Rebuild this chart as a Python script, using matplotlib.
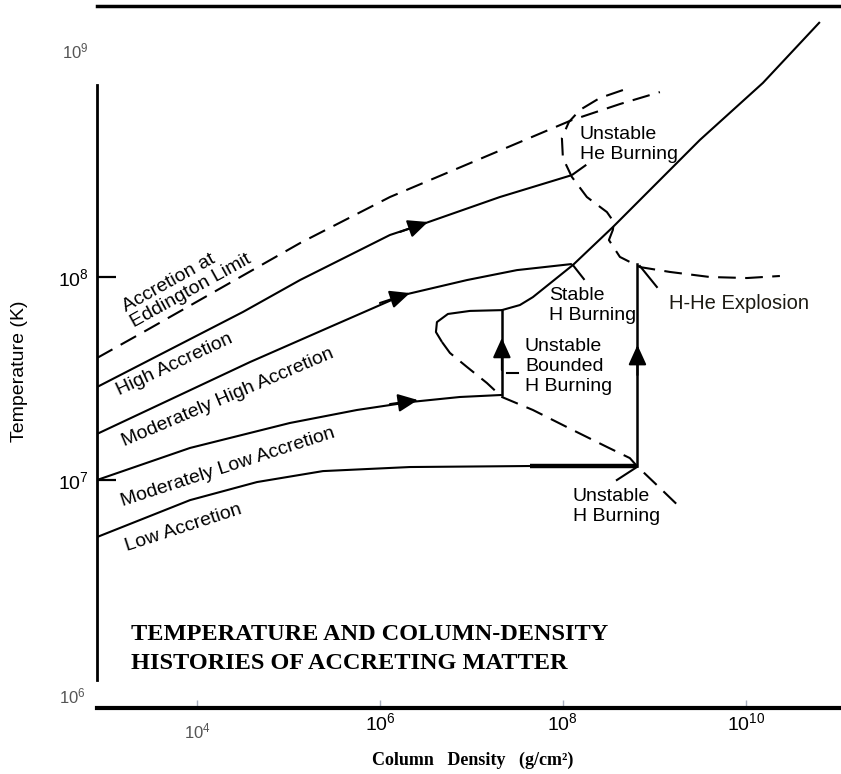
import numpy as np
import matplotlib.pyplot as plt
from matplotlib.transforms import ScaledTranslation

plt.rcParams['font.family'] = ['Liberation Sans', 'DejaVu Sans']
plt.rcParams['mathtext.fontset'] = 'custom'
plt.rcParams['mathtext.rm'] = 'Liberation Sans'
plt.rcParams['mathtext.it'] = 'Liberation Sans:italic'
plt.rcParams['mathtext.bf'] = 'Liberation Sans:bold'

# values below are log10(column density, g/cm^2) and log10(T, K)
edd_x = [2.907, 3.454, 5.126, 6.109, 8.098, 8.623, 9.060]
edd_y = [7.601, 7.739, 8.167, 8.394, 8.773, 8.852, 8.911]

high_x = [2.907, 4.503, 5.126, 6.109, 6.437, 7.311, 8.098]
high_y = [7.458, 7.828, 7.985, 8.207, 8.256, 8.394, 8.502]
high_end_x = [8.098, 8.328]
high_end_y = [8.502, 8.576]

modhigh_x = [2.907, 4.579, 5.454, 6.251, 6.951, 7.497, 8.098]
modhigh_y = [7.227, 7.581, 7.754, 7.911, 7.985, 8.034, 8.064]

modlow_x = [2.907, 3.924, 5.016, 5.749, 6.328, 6.874, 7.333]
modlow_y = [7.000, 7.158, 7.281, 7.345, 7.384, 7.409, 7.419]

low_x = [2.907, 3.924, 4.656, 5.377, 6.328, 7.639, 8.798]
low_y = [6.719, 6.901, 6.990, 7.044, 7.064, 7.069, 7.069]

# vertical jumps (unstable burning)
jump1_x = [7.333, 7.333]
jump1_y = [7.419, 7.837]
jump2_x = [8.815, 8.815]
jump2_y = [7.069, 8.064]

# stable H burning track up to the top right
stable_x = [7.333, 7.530, 7.672, 8.109, 8.546, 9.497, 10.186, 10.809]
stable_y = [7.837, 7.862, 7.901, 8.059, 8.246, 8.675, 8.956, 9.256]

# boundary of bounded unstable H burning: solid top part, dashed lower part
bnd_solid_x = [7.344, 6.984, 6.743, 6.623, 6.612, 6.678]
bnd_solid_y = [7.837, 7.833, 7.818, 7.778, 7.729, 7.680]
bnd_dash_x = [6.678, 6.765, 6.951, 7.169, 7.333, 7.672, 8.109, 8.481, 8.732, 8.809, 9.060, 9.311]
bnd_dash_y = [7.680, 7.626, 7.557, 7.478, 7.409, 7.345, 7.246, 7.163, 7.108, 7.069, 6.961, 6.852]

# boundary of unstable He burning / H-He explosion
he_x = [8.656, 8.404, 8.186, 8.066, 7.989, 8.000, 8.098, 8.262, 8.481, 8.557,
        8.546, 8.503, 8.623, 8.842, 9.169, 9.607, 10.011, 10.372]
he_y = [8.921, 8.882, 8.823, 8.764, 8.685, 8.586, 8.493, 8.394, 8.320, 8.271,
        8.232, 8.182, 8.099, 8.049, 8.025, 8.000, 7.995, 8.005]

# arrow heads: (tail, tip)
arrow_tail_x = [6.219, 6.000, 6.109, 7.333, 8.815]
arrow_tail_y = [8.222, 7.872, 7.374, 7.542, 7.517]
arrow_tip_x = [6.525, 6.328, 6.415, 7.333, 8.815]
arrow_tip_y = [8.271, 7.921, 7.394, 7.700, 7.665]

# leader ticks for region labels
leader_x0 = [8.109, 8.842, 7.388, 8.809]
leader_y0 = [8.059, 8.054, 7.527, 7.064]
leader_x1 = [8.229, 9.027, 7.508, 8.590]
leader_y1 = [7.990, 7.951, 7.527, 7.000]

region_labels = ['Unstable\nHe Burning', 'Stable\nH Burning', 'Unstable\nBounded\nH Burning',
                 'Unstable\nH Burning']
region_x = [8.186, 7.847, 7.585, 8.109]
region_y = [8.745, 7.953, 7.700, 6.962]

track_labels = ['Accretion at\nEddington Limit', 'High Accretion', 'Moderately High Accretion',
                'Moderately Low Accretion', 'Low Accretion']
track_x = [3.891, 3.760, 4.339, 4.339, 3.847]
track_y = [7.970, 7.567, 7.404, 7.064, 6.764]
track_rot = [29, 25, 23, 18, 18]

xtick_vals = [1e4, 1e6, 1e8, 1e10]
xtick_labels = [r'$\mathregular{10^4}$', r'$\mathregular{10^6}$', r'$\mathregular{10^8}$',
                r'$\mathregular{10^{10}}$']
ytick_vals = [1e6, 1e7, 1e8, 1e9]
ytick_labels = [r'$\mathregular{10^6}$', r'$\mathregular{10^7}$', r'$\mathregular{10^8}$',
                r'$\mathregular{10^9}$']


def L(a):
    return 10 ** np.asarray(a, dtype=float)


fig = plt.figure(figsize=(8.41, 7.74), dpi=100)
ax = fig.add_axes([97 / 841, 66 / 774, 744 / 841, 702 / 774])
ax.set_xscale('log')
ax.set_yscale('log')
ax.set_xlim(10 ** 2.907, 10 ** 11.04)
ax.set_ylim(10 ** 5.877, 10 ** 9.335)

solid = dict(color='black', lw=1.5, solid_capstyle='butt', solid_joinstyle='round')
dashed = dict(color='black', lw=1.5, dashes=(8.5, 4.5))

ax.plot(L(edd_x), L(edd_y), **dashed)
ax.plot(L(high_x), L(high_y), **solid)
ax.plot(L(high_end_x), L(high_end_y), **dashed)
ax.plot(L(modhigh_x), L(modhigh_y), **solid)
ax.plot(L(modlow_x), L(modlow_y), **solid)
ax.plot(L(low_x), L(low_y), **solid)
ax.plot(L(low_x[-2:]), L(low_y[-2:]), color='black', lw=3.2, solid_capstyle='butt')
ax.plot(L(jump1_x), L(jump1_y), color='black', lw=1.8)
ax.plot(L(jump2_x), L(jump2_y), color='black', lw=1.8)
ax.plot(L(stable_x), L(stable_y), **solid)
ax.plot(L(bnd_solid_x), L(bnd_solid_y), **solid)
ax.plot(L(bnd_dash_x), L(bnd_dash_y), **dashed)
ax.plot(L(he_x), L(he_y), **dashed)

for x0, y0, x1, y1 in zip(leader_x0, leader_y0, leader_x1, leader_y1):
    ax.plot(L([x0, x1]), L([y0, y1]), color='black', lw=1.5)

for tx, ty, hx, hy in zip(arrow_tail_x, arrow_tail_y, arrow_tip_x, arrow_tip_y):
    ax.annotate('', xy=(10 ** hx, 10 ** hy), xytext=(10 ** tx, 10 ** ty),
                arrowprops=dict(arrowstyle='-|>,head_length=0.55,head_width=0.25',
                                mutation_scale=22, color='black', lw=1.5,
                                shrinkA=0, shrinkB=0))

for txt, x, y in zip(region_labels, region_x, region_y):
    ax.text(10 ** x, 10 ** y, txt, fontsize=14, ha='left', va='top', linespacing=1.25)
ax.text(10 ** 9.158, 10 ** 7.872, 'H-He Explosion', fontsize=14.5, ha='left', va='center',
        color='#1c1a12')

for txt, x, y, r in zip(track_labels, track_x, track_y, track_rot):
    ax.text(10 ** x, 10 ** y, txt, fontsize=14, ha='center', va='center', rotation=r,
            rotation_mode='anchor', multialignment='left', linespacing=1.0)

ax.text(10 ** 3.279, 10 ** 6.292, 'TEMPERATURE AND COLUMN-DENSITY\nHISTORIES OF ACCRETING MATTER',
        family='Liberation Serif', weight='bold', fontsize=17.5, ha='left', va='top',
        linespacing=1.5)

# axes frame
ax.spines['right'].set_visible(False)
ax.spines['top'].set_linewidth(2.5)
ax.spines['bottom'].set_linewidth(3)
ax.spines['left'].set_linewidth(2)
ax.spines['left'].set_bounds(10 ** 6.015, 10 ** 8.946)

ax.set_xticks(xtick_vals, labels=xtick_labels)
ax.set_yticks(ytick_vals, labels=ytick_labels)
ax.minorticks_off()
ax.tick_params(axis='x', direction='in', length=6, width=1, color='#a8b0c0', pad=3,
               labelsize=14)
ax.tick_params(axis='y', direction='in', length=14, width=1.6, pad=6, labelsize=14)

# the 10^4, 10^6 (T) and 10^9 labels are lighter and smaller in the original
xt = ax.xaxis.get_major_ticks()
xt[0].label1.set_color('#555555')
xt[0].label1.set_fontsize(12)
xt[0].label1.set_transform(xt[0].label1.get_transform() +
                           ScaledTranslation(0, -0.09, fig.dpi_scale_trans))
yt = ax.yaxis.get_major_ticks()
for i, dy in ((0, -0.12), (3, 0.24)):
    yt[i].tick1line.set_visible(False)
    yt[i].label1.set_color('#555555')
    yt[i].label1.set_fontsize(12)
    yt[i].label1.set_transform(yt[i].label1.get_transform() +
                               ScaledTranslation(-0.03 if i == 0 else 0, dy,
                                                 fig.dpi_scale_trans))

ax.set_xlabel('Column   Density   (g/cm²)', family='Liberation Serif', weight='bold',
              fontsize=13)
ax.xaxis.set_label_coords(0.505, -0.062)
ax.set_ylabel('Temperature (K)', fontsize=14)
ax.yaxis.set_label_coords(-0.093, 0.48)

fig.savefig('out.png', dpi=100)
